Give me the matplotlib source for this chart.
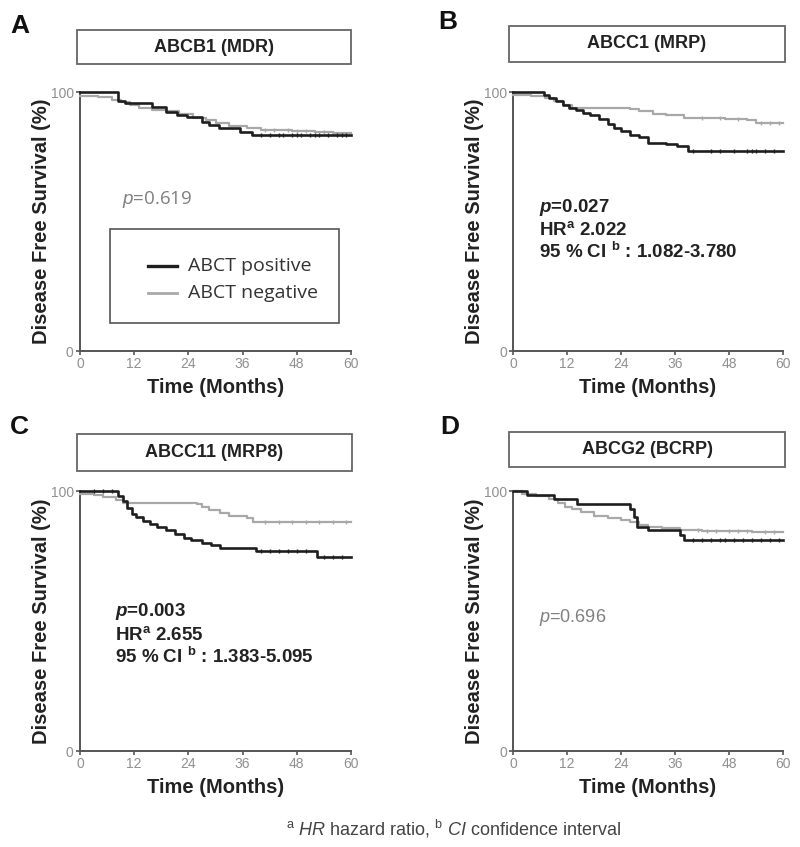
import matplotlib
matplotlib.use("Agg")
import matplotlib.pyplot as plt
from matplotlib.patches import Rectangle

plt.rcParams['font.family'] = ['Liberation Sans', 'DejaVu Sans']
plt.rcParams['mathtext.fontset'] = 'custom'
plt.rcParams['mathtext.rm'] = 'Liberation Sans'
plt.rcParams['mathtext.it'] = 'Liberation Sans:italic'
plt.rcParams['mathtext.bf'] = 'Liberation Sans:bold'
plt.rcParams['mathtext.bfit'] = 'Liberation Sans:italic:bold'

# ---------------- data ----------------
panel_letters = ["A", "B", "C", "D"]
panel_titles = ["ABCB1 (MDR)", "ABCC1 (MRP)", "ABCC11 (MRP8)", "ABCG2 (BCRP)"]
x_ticks = [0, 12, 24, 36, 48, 60]
y_ticks = [0, 100]
series_names = ["ABCT positive", "ABCT negative"]

# Panel A
a_pos_t = [0, 8.5, 10, 16, 19, 21.4, 23.6, 27, 28.5, 30.7, 35.5, 38]
a_pos_s = [100, 96.5, 95.9, 94.3, 92.4, 91.1, 90.5, 88.5, 87.2, 86.0, 84.7, 83.4]
a_neg_t = [0, 4, 7, 9, 11, 13, 16, 19, 22, 25, 28, 30, 33, 37, 40, 47, 52, 56]
a_neg_s = [98.5, 98, 97, 96, 95, 94, 93, 92.5, 91.5, 90, 89, 88, 87, 86, 85.5, 85, 84.5, 84]
a_pos_c = [40, 42, 44, 45, 47, 48, 49, 51, 52, 53, 55, 57, 58, 59]
a_neg_c = [41, 43, 46, 48, 50, 54, 56]

# Panel B
b_pos_t = [0, 6.8, 8, 9.5, 11, 12.5, 14, 15.5, 17, 19, 21, 22.5, 24, 26, 28, 30, 34, 36.5, 38.9]
b_pos_s = [100, 99, 97.5, 96.5, 95, 94, 93, 92, 91, 89.5, 87.5, 86, 85, 83.5, 82.7, 80.5, 80, 79, 77.3]
b_neg_t = [0, 4, 7, 9, 11, 13, 26, 28, 31, 34, 38, 47, 52, 54]
b_neg_s = [99, 98.5, 97.5, 96.5, 95, 94, 93.5, 92.5, 91.5, 91, 90, 89.5, 89, 88.2]
b_pos_c = [40, 44, 46, 49, 52, 53, 54, 56, 58]
b_neg_c = [42, 46, 50, 55, 57, 59]

# Panel C
c_pos_t = [0, 8.5, 9.5, 10.5, 11.5, 12.5, 14, 15.5, 17, 19, 21, 23, 24.5, 27, 29, 31, 39, 52.4]
c_pos_s = [100, 98, 96, 93.5, 91, 90, 88.5, 87.5, 86, 85, 83.5, 82, 81, 80, 79.2, 78.2, 77, 74.7]
c_neg_t = [0, 3, 5, 8, 9.5, 25.8, 27, 28.5, 31, 33, 37, 38.4]
c_neg_s = [99, 98.5, 97.5, 96.5, 95.5, 95, 94, 92.5, 91.5, 90.5, 89.5, 88.2]
c_pos_c = [3, 5, 7, 40, 42, 44, 46, 48, 50, 54, 56, 58]
c_neg_c = [41, 44, 47, 50, 53, 56, 59]

# Panel D
d_pos_t = [0, 3, 9, 14.2, 26, 26.8, 27.6, 30.1, 37.2, 38]
d_pos_s = [100, 98.5, 96.8, 95.1, 93.2, 90, 86.2, 84.9, 82.9, 81]
d_neg_t = [0, 2, 5, 8, 10, 11.5, 13, 15, 18, 21, 24, 26, 28, 30, 33, 37, 42, 53]
d_neg_s = [100, 99, 98, 97, 95.5, 94, 93, 92, 90.5, 89.5, 88.8, 88, 87, 86.2, 85.6, 85, 84.7, 84.2]
d_pos_c = [40, 42, 44, 46, 47, 49, 51, 53, 55, 57, 59]
d_neg_c = [41, 43, 45, 48, 50, 52, 56, 58]

curves = [
    (a_pos_t, a_pos_s, a_pos_c, a_neg_t, a_neg_s, a_neg_c),
    (b_pos_t, b_pos_s, b_pos_c, b_neg_t, b_neg_s, b_neg_c),
    (c_pos_t, c_pos_s, c_pos_c, c_neg_t, c_neg_s, c_neg_c),
    (d_pos_t, d_pos_s, d_pos_c, d_neg_t, d_neg_s, d_neg_c),
]

stats_text = [
    None,
    ["$\\mathbfit{p}$=0.027", "HR$^{\\mathbf{a}}$ 2.022", "95 % CI $^{\\mathbf{b}}$ : 1.082-3.780"],
    ["$\\mathbfit{p}$=0.003", "HR$^{\\mathbf{a}}$ 2.655", "95 % CI $^{\\mathbf{b}}$ : 1.383-5.095"],
    None,
]
p_plain = ["$\\it{p}$=0.619", None, None, "$\\it{p}$=0.696"]

footnote = "$^{\\mathrm{a}}$ $\\it{HR}$ hazard ratio, $^{\\mathrm{b}}$ $\\it{CI}$ confidence interval"

# ---------------- layout ----------------
W, H = 800, 847
fig = plt.figure(figsize=(W / 100, H / 100), dpi=100)

def fx(px):
    return px / W

def fy(py):
    return 1 - py / H

axes_px = [(80, 351, 92, 351), (513, 783, 92, 351), (80, 351, 491, 751), (513, 783, 491, 751)]
title_px = [(77, 351, 30, 64), (509, 785, 26, 62), (77, 352, 434, 471), (509, 785, 432, 467)]
letter_px = [(10, 26), (438, 22), (10, 427), (440, 427)]

POS_COL = "#1e1e1e"
NEG_COL = "#a8a8a8"

def survival_at(t_list, s_list, x):
    val = s_list[0]
    for t, s in zip(t_list, s_list):
        if t <= x:
            val = s
    return val

for i in range(4):
    l, r, t, b = axes_px[i]
    ax = fig.add_axes([fx(l), fy(b), fx(r - l), (b - t) / H])
    pt, ps, pc, nt, ns, nc = curves[i]
    ax.step(list(nt) + [60], list(ns) + [ns[-1]], where='post', color=NEG_COL, lw=1.6, clip_on=False, zorder=3)
    ax.step(list(pt) + [60], list(ps) + [ps[-1]], where='post', color=POS_COL, lw=1.9, clip_on=False, zorder=4)
    ax.plot(nc, [survival_at(nt, ns, c) for c in nc], ls='none', marker='|', ms=3.5, mew=1.0, color=NEG_COL, clip_on=False, zorder=3)
    ax.plot(pc, [survival_at(pt, ps, c) for c in pc], ls='none', marker='|', ms=3.5, mew=1.0, color=POS_COL, clip_on=False, zorder=4)

    ax.set_xlim(0, 60)
    ax.set_ylim(0, 100)
    ax.set_xticks(x_ticks)
    ax.set_yticks(y_ticks)
    ax.set_xticklabels([str(v) for v in x_ticks])
    ax.set_yticklabels([str(v) for v in y_ticks])
    for sp in ['top', 'right']:
        ax.spines[sp].set_visible(False)
    for sp in ['left', 'bottom']:
        ax.spines[sp].set_color('#555555')
        ax.spines[sp].set_linewidth(1.4)
    ax.tick_params(axis='both', direction='out', length=3, width=1.2, color='#555555',
                   labelsize=10, labelcolor='#909090', pad=1.5)
    ax.set_xlabel("Time (Months)", fontsize=14.5, fontweight='bold', color='#222222', labelpad=5)
    ax.set_ylabel("Disease Free Survival (%)", fontsize=14.5, fontweight='bold', color='#222222', labelpad=0)

    if p_plain[i]:
        if i == 0:
            ax.text(0.155, 0.585, p_plain[i], transform=ax.transAxes, fontsize=13.5, color='#808080',
                    family=['Open Sans', 'DejaVu Sans'], va='center', ha='left')
        else:
            ax.text(0.095, 0.515, p_plain[i], transform=ax.transAxes, fontsize=13, color='#808080',
                    va='center', ha='left')
    if stats_text[i]:
        x0 = 0.095 if i == 1 else 0.13
        y0 = 0.555 if i == 1 else 0.535
        for k, line in enumerate(stats_text[i]):
            ax.text(x0, y0 - k * 0.087, line, transform=ax.transAxes, fontsize=13.5,
                    fontweight='bold', color='#222222', va='center', ha='left')

    if i == 0:
        lb = Rectangle((fx(110), fy(323)), fx(339 - 110), (323 - 229) / H, transform=fig.transFigure,
                       fill=False, edgecolor='#555555', lw=1.2)
        fig.patches.append(lb)
        for k, (name, col, lw) in enumerate([(series_names[0], POS_COL, 2.4), (series_names[1], NEG_COL, 2.0)]):
            yy = fy(266 + k * 27)
            fig.add_artist(plt.Line2D([fx(148), fx(177)], [yy, yy], color=col, lw=lw, transform=fig.transFigure))
            fig.text(fx(188), yy, name, fontsize=14, color='#333333', va='center', ha='left',
                     family=['Open Sans', 'DejaVu Sans'])

    tl, tr, tt, tb = title_px[i]
    rect = Rectangle((fx(tl), fy(tb)), fx(tr - tl), (tb - tt) / H, transform=fig.transFigure,
                     fill=False, edgecolor='#666666', lw=1.3)
    fig.patches.append(rect)
    fig.text(fx((tl + tr) / 2), fy((tt + tb) / 2), panel_titles[i], fontsize=13, fontweight='bold',
             color='#222222', ha='center', va='center')

    lx, ly = letter_px[i]
    fig.text(fx(lx), fy(ly), panel_letters[i], fontsize=19, fontweight='bold', color='#111111',
             ha='left', va='center')

fig.text(fx(454), fy(829), footnote, fontsize=13, color='#444444', ha='center', va='center')

fig.savefig("out.png", dpi=100, facecolor='white')
